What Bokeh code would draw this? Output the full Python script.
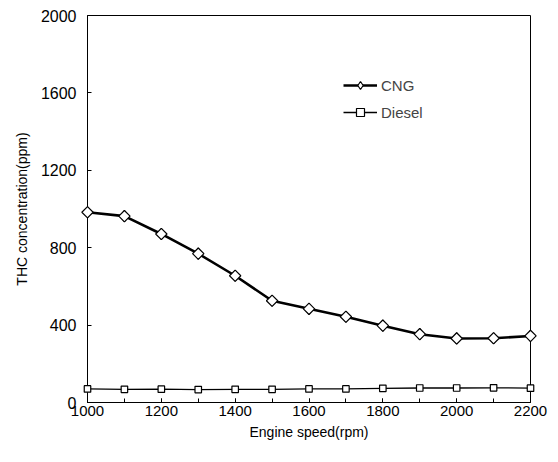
import math
from bokeh.plotting import figure
from bokeh.models import Range1d, FixedTicker, Legend, LegendItem
from bokeh.embed import file_html
from bokeh.resources import INLINE

speed = [1000, 1100, 1200, 1300, 1400, 1500, 1600, 1700, 1800, 1900, 2000, 2100, 2200]
cng = [983, 963, 871, 769, 655, 526, 484, 443, 397, 353, 331, 332, 344]
diesel = [70, 68, 69, 67, 68, 68, 70, 70, 73, 75, 75, 76, 74]
x_ticks = [1000, 1200, 1400, 1600, 1800, 2000, 2200]
y_ticks = [0, 400, 800, 1200, 1600, 2000]

FONT = "Liberation Sans"

p = figure(width=558, height=462, output_backend="svg", toolbar_location=None,
           x_range=Range1d(1000, 2200), y_range=Range1d(0, 2000),
           min_border_left=87, min_border_right=28, min_border_top=15, min_border_bottom=60)
p.grid.visible = False
p.outline_line_color = "black"
p.outline_line_width = 1
p.background_fill_color = "white"
p.border_fill_color = "white"

p.xaxis.ticker = FixedTicker(ticks=x_ticks, minor_ticks=list(range(1000, 2201, 100)))
p.yaxis.ticker = FixedTicker(ticks=y_ticks)
for ax in (p.xaxis, p.yaxis):
    ax.axis_line_color = "black"
    ax.axis_line_width = 1
    ax.major_tick_in = 4
    ax.major_tick_out = 0
    ax.minor_tick_in = 4
    ax.minor_tick_out = 0
    ax.major_label_text_font = FONT
    ax.major_label_text_color = "black"
    ax.axis_label_text_font = FONT
    ax.axis_label_text_font_size = "14px"
    ax.axis_label_text_font_style = "normal"
    ax.axis_label_text_color = "black"
p.xaxis.major_label_text_font_size = "15px"
p.yaxis.major_label_text_font_size = "16px"
p.yaxis.minor_tick_in = 0
p.xaxis.axis_label = "Engine speed(rpm)"
p.yaxis.axis_label = "THC concentration(ppm)"
p.xaxis.major_label_standoff = 3
p.xaxis.axis_label_standoff = 5
p.yaxis.major_label_standoff = 11
p.yaxis.axis_label_standoff = 8

l1 = p.line(speed, cng, line_color="black", line_width=2.6)
# diamond swatch used by the legend; hidden under the data markers
k1 = p.scatter(speed, cng, marker="diamond", size=11,
               fill_color="white", line_color="black", line_width=1.2)
s1 = p.scatter(speed, cng, marker="square", angle=math.pi / 4, size=8,
               fill_color="white", line_color="black", line_width=1.2, level="overlay")
l2 = p.line(speed, diesel, line_color="black", line_width=1.3)
s2 = p.scatter(speed, diesel, marker="square", size=6.5,
               fill_color="white", line_color="black", line_width=1.2, level="overlay")

legend = Legend(items=[LegendItem(label="CNG", renderers=[l1, k1]),
                       LegendItem(label="Diesel", renderers=[l2, s2])],
                location=(256, 280), border_line_color=None, background_fill_alpha=0,
                padding=0, margin=0, spacing=7, glyph_width=34, glyph_height=20,
                label_standoff=4, label_text_font=FONT, label_text_font_size="15px")
p.add_layout(legend)

open("out.html", "w").write(file_html(p, INLINE))
